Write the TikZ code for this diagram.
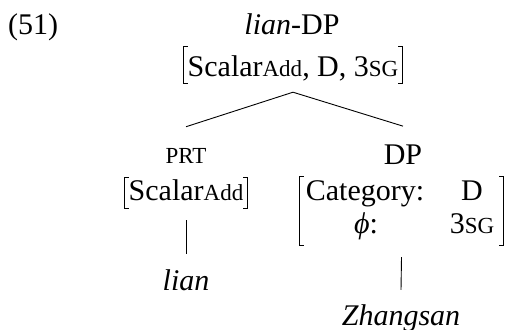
\documentclass[tikz,border=0pt]{standalone}
\usepackage{fontspec}
\setmainfont{Liberation Serif}
\newcommand{\smc}[1]{{\fontsize{23}{23}\selectfont #1}}
\tikzset{
  lbl/.style={inner sep=0pt, anchor=base},
  brk/.style={line width=0.9pt, line cap=rect},
  edge/.style={line width=0.9pt},
}
\newcommand{\brackets}[1]{%
  \draw[brk] ([xshift=4pt]#1.north west) -- (#1.north west) -- (#1.south west) -- ([xshift=4pt]#1.south west);
  \draw[brk] ([xshift=-4pt]#1.north east) -- (#1.north east) -- (#1.south east) -- ([xshift=-4pt]#1.south east);}
\begin{document}
\begin{tikzpicture}[x=1pt,y=-1pt,font=\fontsize{30}{34}\selectfont]
\useasboundingbox (0,0) rectangle (508,329);
\node[lbl, anchor=base west] (num) at (8,35) {(51)};
\node[lbl] (root) at (292,35) {\textit{lian}-DP};
\node[lbl, text height=30pt, text depth=6pt, inner xsep=4pt] (rf) at (293,77) {Scalar\smc{Add}, D, 3\smc{SG}};
\brackets{rf}
\node[lbl] (prt) at (186,163) {\smc{PRT}};
\node[lbl] (dp) at (403,164) {DP};
\node[lbl, text height=22pt, text depth=8pt, inner xsep=4pt] (pf) at (186,200) {Scalar\smc{Add}};
\brackets{pf}
\node[inner sep=0pt, minimum width=203pt, minimum height=68pt] (df) at (401.5,211) {};
\brackets{df}
\node[lbl] (cat) at (365,200) {Category:};
\node[lbl] (catv) at (472,200) {D};
\node[lbl] (phi) at (366,233) {\textit{\char"03D5}:};
\node[lbl] (phiv) at (472,233) {3\smc{SG}};
\node[lbl] (lian) at (186,290) {\textit{lian}};
\node[lbl] (zh) at (401,325) {\textit{Zhangsan}};
\draw[edge] ([yshift=-9pt]rf.south) -- ([yshift=21pt]prt.north);
\draw[edge] ([yshift=-9pt]rf.south) -- ([yshift=18pt]dp.north);
\draw[edge] ([yshift=-12pt]pf.south) -- ([yshift=15pt]lian.north);
\draw[edge] ([yshift=-12pt]df.south) -- ([yshift=14pt]zh.north);
\end{tikzpicture}
\end{document}
